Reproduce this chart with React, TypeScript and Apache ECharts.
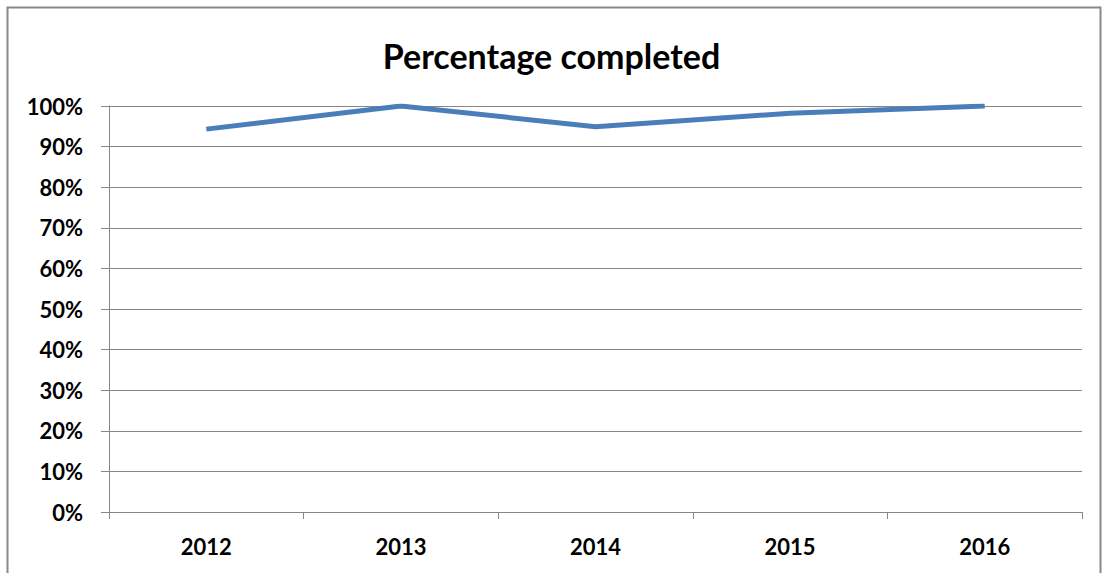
import React, { useEffect, useRef } from "react";
import * as echarts from "echarts";

const years = ["2012", "2013", "2014", "2015", "2016"];
const completed = [0.943, 1.0, 0.949, 0.982, 1.0];
const titleText = "Percentage completed";

export default function App() {
  const ref = useRef<HTMLDivElement>(null);
  useEffect(() => {
    if (!ref.current) return;
    const chart = echarts.init(ref.current, null, { renderer: "svg" });
    const grey = "#868686";
    chart.setOption({
      animation: false,
      backgroundColor: "#ffffff",
      title: {
        text: titleText,
        left: "center",
        top: 33,
        textStyle: { fontFamily: "Lato", fontWeight: "bold", fontSize: 34, color: "#000" },
      },
      graphic: [
        {
          type: "rect",
          shape: { x: 7.5, y: 7.5, width: 1093, height: 600 },
          style: { fill: "none", stroke: "#888", lineWidth: 2 },
          silent: true,
        },
      ],
      grid: { left: 109, right: 21, top: 106, bottom: 61 },
      xAxis: {
        type: "category",
        data: years,
        boundaryGap: true,
        axisLine: { lineStyle: { color: grey, width: 1 } },
        axisTick: { show: true, length: 7, lineStyle: { color: grey } },
        axisLabel: {
          margin: 23,
          fontFamily: "Lato",
          fontWeight: "bold",
          fontSize: 22,
          color: "#000",
        },
      },
      yAxis: {
        type: "value",
        min: 0,
        max: 1,
        interval: 0.1,
        axisLine: { show: true, lineStyle: { color: grey, width: 1 } },
        axisTick: { show: true, length: 8, lineStyle: { color: grey } },
        splitLine: { lineStyle: { color: grey, width: 1 } },
        axisLabel: {
          margin: 26,
          fontFamily: "Lato",
          fontWeight: "bold",
          fontSize: 22,
          color: "#000",
          formatter: (v: number) => Math.round(v * 100) + "%",
        },
      },
      series: [
        {
          type: "line",
          data: completed,
          symbol: "none",
          lineStyle: { color: "#4A7EBB", width: 5 },
        },
      ],
    });
    return () => chart.dispose();
  }, []);
  return (
    <div
      ref={ref}
      style={{ position: "absolute", left: 0, top: 0, width: 1103, height: 573 }}
    />
  );
}
